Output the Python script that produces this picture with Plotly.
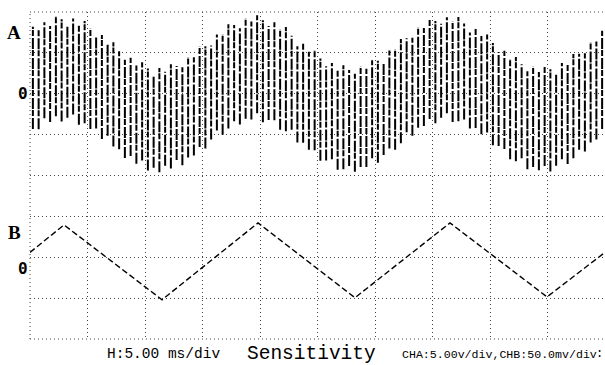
import plotly.graph_objects as go

# ---- data (divisions relative to each channel's zero) ----
H_MS_PER_DIV = 5.0          # H: 5.00 ms/div
CHA_V_PER_DIV = 5.00        # CHA: 5.00 V/div
CHB_MV_PER_DIV = 50.0       # CHB: 50.0 mV/div

# Channel A: high-frequency burst drawn as vertical strokes (time in ms, extent in div)
a_time_ms = [0.25, 0.75, 1.25, 1.75, 2.25, 2.75, 3.25, 3.75, 4.25, 4.75,
             5.25, 5.75, 6.25, 6.75, 7.25, 7.75, 8.25, 8.75, 9.25, 9.75,
             10.25, 10.75, 11.25, 11.75, 12.25, 12.75, 13.25, 13.75, 14.25, 14.75,
             15.25, 15.75, 16.25, 16.75, 17.25, 17.75, 18.25, 18.75, 19.25, 19.75,
             20.25, 20.75, 21.25, 21.75, 22.25, 22.75, 23.25, 23.75, 24.25, 24.75,
             25.25, 25.75, 26.25, 26.75, 27.25, 27.75, 28.25, 28.75, 29.25, 29.75,
             30.25, 30.75, 31.25, 31.75, 32.25, 32.75, 33.25, 33.75, 34.25, 34.75,
             35.25, 35.75, 36.25, 36.75, 37.25, 37.75, 38.25, 38.75, 39.25, 39.75,
             40.25, 40.75, 41.25, 41.75, 42.25, 42.75, 43.25, 43.75, 44.25, 44.75,
             45.25, 45.75, 46.25, 46.75, 47.25, 47.75, 48.25, 48.75, 49.25, 49.75]
a_top_div = [1.64, 1.58, 1.75, 1.66, 1.90, 1.82, 1.66, 1.84, 1.69, 1.78,
             1.59, 1.40, 1.44, 1.22, 1.26, 1.04, 0.83, 0.88, 0.69, 0.77,
             0.62, 0.44, 0.63, 0.54, 0.72, 0.68, 0.65, 0.89, 0.89, 1.15,
             1.16, 1.18, 1.45, 1.45, 1.70, 1.68, 1.60, 1.84, 1.77, 1.92,
             1.80, 1.66, 1.75, 1.57, 1.63, 1.42, 1.16, 1.25, 1.03, 1.07,
             0.86, 0.67, 0.75, 0.59, 0.70, 0.58, 0.49, 0.66, 0.61, 0.82,
             0.81, 0.75, 1.06, 1.08, 1.34, 1.36, 1.37, 1.62, 1.61, 1.83,
             1.78, 1.71, 1.87, 1.76, 1.88, 1.72, 1.50, 1.61, 1.41, 1.45,
             1.24, 1.02, 1.05, 0.85, 0.90, 0.72, 0.55, 0.66, 0.53, 0.68,
             0.60, 0.49, 0.75, 0.73, 0.97, 0.98, 0.99, 1.26, 1.28, 1.54]
a_bot_div = [-0.86, -0.87, -0.60, -0.69, -0.55, -0.68, -0.59, -0.51, -0.76, -0.72,
             -0.86, -0.85, -1.11, -1.03, -1.29, -1.36, -1.57, -1.52, -1.71, -1.63,
             -1.88, -1.81, -1.92, -1.76, -1.83, -1.62, -1.75, -1.56, -1.51, -1.30,
             -1.34, -1.12, -0.90, -1.00, -0.85, -0.67, -0.75, -0.61, -0.63, -0.48,
             -0.70, -0.64, -0.65, -0.88, -0.92, -0.88, -1.19, -1.20, -1.37, -1.38,
             -1.64, -1.63, -1.60, -1.86, -1.85, -1.77, -1.91, -1.79, -1.79, -1.58,
             -1.69, -1.50, -1.34, -1.37, -1.21, -0.94, -1.03, -0.83, -0.79, -0.62,
             -0.72, -0.59, -0.48, -0.69, -0.67, -0.63, -0.85, -0.84, -0.99, -0.95,
             -1.26, -1.28, -1.35, -1.60, -1.65, -1.58, -1.85, -1.79, -1.87, -1.77,
             -1.90, -1.76, -1.60, -1.72, -1.58, -1.37, -1.41, -1.19, -1.12, -0.86]

# Channel B: triangle wave vertices (time in ms, value in div)
b_time_ms = [0.0, 2.96, 11.48, 19.83, 28.26, 36.52, 44.96, 50.0]
b_val_div = [0.12, 0.79, -1.04, 0.84, -0.99, 0.84, -0.97, 0.12]

A_ZERO_DIV = 2.0    # channel A baseline on the 8-division screen
B_ZERO_DIV = -2.0   # channel B baseline

caption_h = "H:5.00 ms/div"
caption_s = "Sensitivity"
caption_ch = "CHA:5.00v/div,CHB:50.0mv/div"

# ---- build traces ----
ax, ay = [], []
for t, hi, lo in zip(a_time_ms, a_top_div, a_bot_div):
    ax += [t, t, None]
    ay += [A_ZERO_DIV + lo, A_ZERO_DIV + hi, None]

fig = go.Figure()
fig.add_trace(go.Scatter(
    x=ax, y=ay, mode="lines",
    line=dict(color="black", width=2.0, dash="11px,2px,6px,1px"),
    hoverinfo="skip", showlegend=False))
fig.add_trace(go.Scatter(
    x=b_time_ms, y=[B_ZERO_DIV + v for v in b_val_div], mode="lines",
    line=dict(color="black", width=1.4, dash="6px,3px"),
    hoverinfo="skip", showlegend=False))

GRID_COLOR = "#444444"
GRID_DASH = "1px,3px"
grid = dict(showgrid=True, gridcolor=GRID_COLOR, gridwidth=1, griddash=GRID_DASH,
            zeroline=False, showticklabels=False, ticks="", showline=False)
fig.update_xaxes(range=[0, 10 * H_MS_PER_DIV], dtick=H_MS_PER_DIV, **grid)
fig.update_yaxes(range=[-4, 4], dtick=1, **grid)

# screen border (dotted like the graticule)
for x0, y0, x1, y1 in [(0, 0, 1, 0), (0, 1, 1, 1), (0, 0, 0, 1)]:
    fig.add_shape(type="line", xref="paper", yref="paper", x0=x0, y0=y0, x1=x1, y1=y1,
                  line=dict(color=GRID_COLOR, width=1, dash=GRID_DASH), layer="below")

# channel labels (paper coords: plot spans x 30..605 px, y 12..339 px)
def px_x(px):
    return (px - 30) / 575.0

def px_y(py):
    return (339 - py) / 327.0

for txt, px, py, fam, sz in [("A", 14, 32, "Liberation Serif", 19),
                             ("0", 23, 94, "DejaVu Sans Mono", 16),
                             ("B", 14, 232, "Liberation Serif", 19),
                             ("0", 23, 268, "DejaVu Sans Mono", 16)]:
    fig.add_annotation(x=px_x(px), y=px_y(py), xref="paper", yref="paper",
                       xanchor="center", yanchor="middle", text="<b>%s</b>" % txt,
                       showarrow=False, font=dict(family=fam, size=sz, color="black"))

fig.add_annotation(x=px_x(105), y=px_y(354), xref="paper", yref="paper", xanchor="left",
                   yanchor="middle", text=caption_h, showarrow=False,
                   font=dict(family="Liberation Mono", size=14.5, color="black"))
fig.add_annotation(x=px_x(245), y=px_y(354), xref="paper", yref="paper", xanchor="left",
                   yanchor="middle", text=caption_s, showarrow=False,
                   font=dict(family="Liberation Mono", size=19.5, color="black"))
fig.add_annotation(x=px_x(400), y=px_y(354), xref="paper", yref="paper", xanchor="left",
                   yanchor="middle", text=caption_ch, showarrow=False,
                   font=dict(family="Liberation Mono", size=11.6, color="black"))
fig.add_annotation(x=1.0, y=px_y(354), xref="paper", yref="paper", xanchor="right",
                   yanchor="middle", text=":", showarrow=False,
                   font=dict(family="Liberation Mono", size=12, color="black"))

fig.update_layout(
    width=605, height=365,
    margin=dict(l=30, r=0, t=12, b=26),
    paper_bgcolor="white", plot_bgcolor="white",
    showlegend=False)

fig.write_html("out.html")
